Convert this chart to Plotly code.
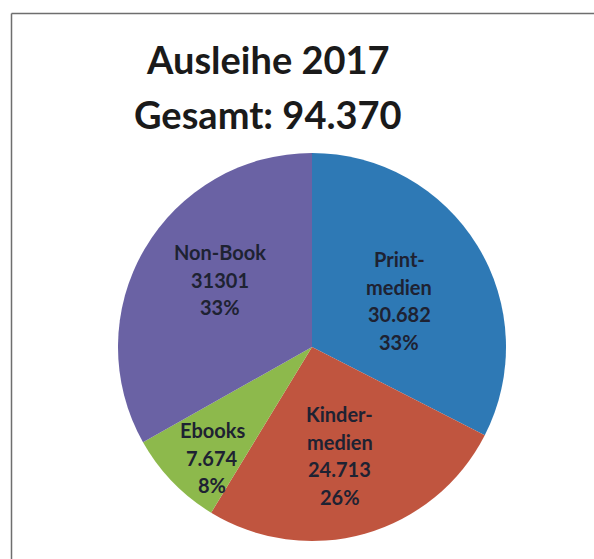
import plotly.graph_objects as go

# Loans 2017 by media type
categories = ["Print-<br>medien", "Kinder-<br>medien", "Ebooks", "Non-Book"]
loans = [30682, 24713, 7674, 31301]
thousands_dot = [True, True, True, False]
slice_colors = ["#2E79B5", "#C0553F", "#8DB94C", "#6A62A4"]

W, H = 594, 559


def de_int(v, grouped=True):
    s = f"{v:,}" if grouped else str(v)
    return s.replace(",", ".")


def px(x):
    return x / W


def py(y):
    return 1 - y / H


total = sum(loans)

# pie geometry (pixels)
cx, cy, r = 312, 347, 194

fig = go.Figure(
    go.Pie(
        labels=[c.replace("<br>", "") for c in categories],
        values=loans,
        sort=False,
        direction="clockwise",
        rotation=0,
        marker=dict(colors=slice_colors, line=dict(width=0)),
        textinfo="none",
        hoverinfo="label+value+percent",
        showlegend=False,
        domain=dict(x=[px(cx - r), px(cx + r)], y=[py(cy + r), py(cy - r)]),
    )
)

annotations = []


def add_lines(lines, x, y_first, pitch, size, color):
    for i, line in enumerate(lines):
        annotations.append(
            dict(
                x=px(x), y=py(y_first + i * pitch), xref="paper", yref="paper",
                text=line, showarrow=False, align="center",
                xanchor="center", yanchor="middle",
                font=dict(family="Lato", size=size, color=color, weight="bold"),
            )
        )


# in-slice labels: name, value, share (x centre, first line centre)
label_pos = [(399, 259), (340, 414), (212, 430), (220, 252)]
for cat, v, grp, (lx, ly) in zip(categories, loans, thousands_dot, label_pos):
    pct = round(100 * v / total)
    lines = cat.split("<br>") + [de_int(v, grp), f"{pct}%"]
    add_lines(lines, lx, ly, 27.5, 20, "#1E2232")

# two-line heading
add_lines(["Ausleihe 2017", f"Gesamt: {de_int(total)}"], 268, 59, 55.5, 38, "#1A1A1A")

# chart frame: top and left edges
frame = [
    dict(type="line", xref="paper", yref="paper",
         x0=px(11.5), x1=1, y0=py(13.5), y1=py(13.5),
         line=dict(color="#6E6E6E", width=1.5)),
    dict(type="line", xref="paper", yref="paper",
         x0=px(11.5), x1=px(11.5), y0=py(13.5), y1=0,
         line=dict(color="#6E6E6E", width=1.5)),
]

fig.update_layout(
    width=W, height=H,
    margin=dict(l=0, r=0, t=0, b=0),
    paper_bgcolor="white",
    plot_bgcolor="white",
    annotations=annotations,
    shapes=frame,
)

fig.write_html("out.html")
